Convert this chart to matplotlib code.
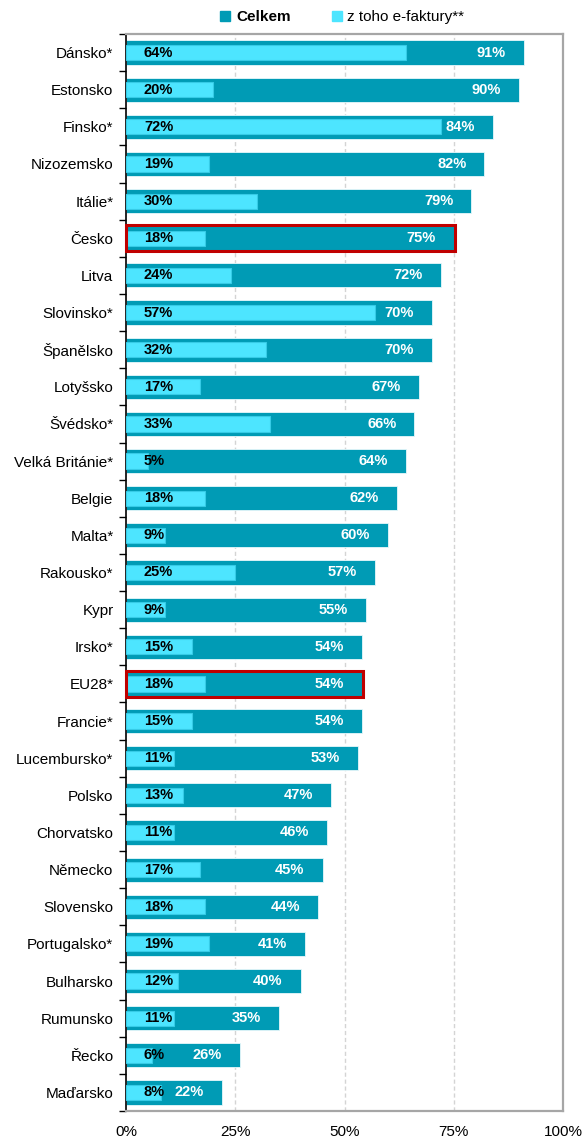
import matplotlib.pyplot as plt
from matplotlib.lines import Line2D
from matplotlib.patches import Rectangle
from matplotlib.ticker import FuncFormatter, FixedLocator

plt.rcParams['font.family'] = ['Liberation Sans', 'DejaVu Sans']

countries = ["Dánsko*", "Estonsko", "Finsko*", "Nizozemsko", "Itálie*", "Česko", "Litva",
             "Slovinsko*", "Španělsko", "Lotyšsko", "Švédsko*", "Velká Británie*", "Belgie",
             "Malta*", "Rakousko*", "Kypr", "Irsko*", "EU28*", "Francie*", "Lucembursko*",
             "Polsko", "Chorvatsko", "Německo", "Slovensko", "Portugalsko*", "Bulharsko",
             "Rumunsko", "Řecko", "Maďarsko"]
celkem = [91, 90, 84, 82, 79, 75, 72, 70, 70, 67, 66, 64, 62, 60, 57, 55, 54, 54, 54, 53,
          47, 46, 45, 44, 41, 40, 35, 26, 22]
efaktury = [64, 20, 72, 19, 30, 18, 24, 57, 32, 17, 33, 5, 18, 9, 25, 9, 15, 18, 15, 11,
            13, 11, 17, 18, 19, 12, 11, 6, 8]
highlighted = ["Česko", "EU28*"]

dark = "#009BB5"
light = "#4DE5FF"

fig = plt.figure(figsize=(5.83, 11.39), dpi=100)
ax = fig.add_axes([126 / 583, 1 - 1111 / 1139, 437 / 583, 1077 / 1139])

y = list(range(len(countries)))
ax.barh(y, [v / 100 for v in celkem], height=0.65, color=dark, edgecolor="#E8F8FB", linewidth=0.6, zorder=2)
ax.barh(y, [v / 100 for v in efaktury], height=0.41, color=light, edgecolor="#36CBE6", linewidth=0.8, zorder=3)

for i, (c, e) in enumerate(zip(celkem, efaktury)):
    ax.annotate(f"{e}%", xy=(0.041, i), ha="left", va="center", fontsize=10.5,
                fontweight="bold", color="black", zorder=5)
    ax.annotate(f"{c}%", xy=(c / 100, i), xytext=(-13, 0), textcoords="offset points",
                ha="right", va="center", fontsize=10.5, fontweight="bold", color="white", zorder=5)

# red frame around the highlighted rows
for name in highlighted:
    i = countries.index(name)
    v = celkem[i] / 100
    ax.add_patch(Rectangle((0, i - 0.35), v + 0.003, 0.70, fill=False,
                           edgecolor="#C00000", linewidth=2.2, zorder=6, clip_on=False))

ax.set_xlim(0, 1)
ax.set_ylim(len(countries) - 0.5, -0.5)
for gx in (0.25, 0.5, 0.75):
    ax.axvline(gx, color="#D4D4D4", linewidth=1, linestyle=(0, (3, 2)), zorder=1)

ax.set_xticks([0, 0.25, 0.5, 0.75, 1])
ax.xaxis.set_major_formatter(FuncFormatter(lambda v, _: f"{v * 100:.0f}%"))
ax.tick_params(axis="x", length=0, labelsize=11, pad=10)

ax.set_yticks(y)
ax.set_yticklabels(countries)
ax.tick_params(axis="y", which="major", length=0, labelsize=11, pad=9)
ax.yaxis.set_minor_locator(FixedLocator([i + 0.5 for i in range(-1, len(countries))]))
ax.tick_params(axis="y", which="minor", length=5, width=1, color="black")

for side in ("top", "right", "bottom"):
    ax.spines[side].set_color("#A6A6A6")
    ax.spines[side].set_linewidth(1.6)
ax.spines["left"].set_color("black")
ax.spines["left"].set_linewidth(1.2)

handles = [Line2D([], [], marker="s", linestyle="none", markersize=7, color=dark),
           Line2D([], [], marker="s", linestyle="none", markersize=7, color=light)]
leg = fig.legend(handles, ["Celkem", "z toho e-faktury**"], loc="center",
                 bbox_to_anchor=(0.585, 1 - 17 / 1139), ncol=2, frameon=False, fontsize=11,
                 handletextpad=0.2, columnspacing=2.5, handlelength=1)
leg.get_texts()[0].set_fontweight("bold")

fig.savefig("out.png", dpi=100)
